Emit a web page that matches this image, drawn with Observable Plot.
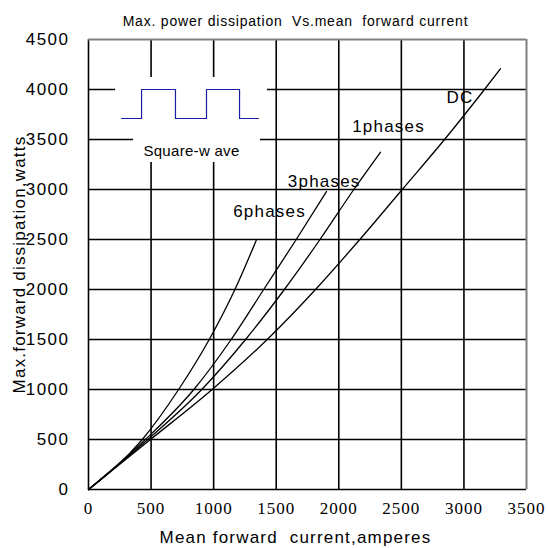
<!DOCTYPE html>
<html>
<head>
<meta charset="utf-8">
<script src="https://cdn.jsdelivr.net/npm/d3@7"></script>
<script src="https://cdn.jsdelivr.net/npm/@observablehq/plot@0.6"></script>
<style>
  html, body { margin: 0; padding: 0; background: white; }
  svg text { letter-spacing: 1.2px; }
</style>
</head>
<body>
<div id="chart"></div>
<script>
// ---- data ----
const xTicks = [0, 500, 1000, 1500, 2000, 2500, 3000, 3500];
const yTicks = [0, 500, 1000, 1500, 2000, 2500, 3000, 3500, 4000, 4500];

const seriesNames = ["6phases", "3phases", "1phases", "DC"];
const current6 = [0, 430, 720, 965, 1170, 1340];
const power6   = [0, 500, 1000, 1500, 2000, 2490];
const current3 = [0, 455, 842, 1140, 1400, 1660, 1902];
const power3   = [0, 500, 1000, 1500, 2000, 2500, 2980];
const current1 = [0, 474, 905, 1255, 1565, 1850, 2120, 2333];
const power1   = [0, 500, 1000, 1500, 2000, 2500, 3000, 3373];
const currentDC = [0, 495, 988, 1428, 1814, 2168, 2507, 2845, 3164, 3292];
const powerDC   = [0, 500, 1000, 1500, 2000, 2500, 3000, 3500, 4000, 4207];

// square-wave inset symbol (in chart units)
const waveX = [264, 424, 424, 695, 695, 943, 943, 1207, 1207, 1358];
const waveY = [3710, 3710, 4000, 4000, 3710, 3710, 4000, 4000, 3710, 3710];
// white background of the inset
const insetX1 = [216, 360];
const insetX2 = [1430, 1374];
const insetY1 = [3670, 3270];
const insetY2 = [4120, 3670];

// curve labels
const labelText = ["6phases", "3phases", "1phases", "DC"];
const labelX = [1156, 1593, 2107, 2861];
const labelY = [2723, 3030, 3580, 3863];

const titleText = "Max. power dissipation  Vs.mean  forward current";
const xTitle = "Mean forward  current,amperes";
const yTitle = "Max.forward dissipation,watts";
const waveLabel = "Square-w ave";

// ---- build tables ----
const curveRows = [];
[[current6, power6], [current3, power3], [current1, power1], [currentDC, powerDC]].forEach(([xs, ys], k) => {
  xs.forEach((x, i) => curveRows.push({series: seriesNames[k], x, y: ys[i]}));
});
const waveRows = waveX.map((x, i) => ({x, y: waveY[i]}));
const insetRows = insetX1.map((x1, i) => ({x1, x2: insetX2[i], y1: insetY1[i], y2: insetY2[i]}));
const labelRows = labelText.map((t, i) => ({t, x: labelX[i], y: labelY[i]}));

const sans = "Liberation Sans, Arial, Helvetica, sans-serif";

const chart = Plot.plot({
  width: 548,
  height: 548,
  marginLeft: 88,
  marginRight: 22,
  marginTop: 39,
  marginBottom: 59,
  style: {background: "white", fontFamily: sans, color: "black"},
  x: {domain: [0, 3500]},
  y: {domain: [0, 4500]},
  marks: [
    Plot.ruleX(xTicks.filter(d => d < 3500), {stroke: "black", strokeWidth: 1.6}),
    Plot.ruleY(yTicks.filter(d => d < 4500), {stroke: "black", strokeWidth: 1.6}),
    Plot.ruleX([3500], {stroke: "#808080", strokeWidth: 2}),
    Plot.ruleY([4500], {stroke: "#808080", strokeWidth: 2}),
    Plot.rect(insetRows, {x1: "x1", x2: "x2", y1: "y1", y2: "y2", fill: "white"}),
    Plot.line(waveRows, {x: "x", y: "y", stroke: "#1c1ca0", strokeWidth: 1.2}),
    Plot.text([waveLabel], {x: 823, y: 3340, text: d => d, fontSize: 15, lineAnchor: "bottom", fill: "black"}),
    Plot.line(curveRows, {x: "x", y: "y", z: "series", stroke: "black", strokeWidth: 1.3, curve: "monotone-x"}),
    Plot.text(labelRows, {x: "x", y: "y", text: "t", textAnchor: "start", lineAnchor: "bottom", fontSize: 17, fill: "black"}),
    Plot.axisX({ticks: xTicks, tickFormat: d => String(d), tickSize: 0, tickPadding: 12, fontSize: 17, fontFamily: "Liberation Serif, Times New Roman, serif", label: null}),
    Plot.axisY({ticks: yTicks, tickFormat: d => String(d), tickSize: 0, tickPadding: 19, fontSize: 17, label: null}),
    Plot.text([titleText], {frameAnchor: "top", text: d => d, dx: -12, dy: -14, lineAnchor: "bottom", fontSize: 14, fill: "black"}),
    Plot.text([xTitle], {frameAnchor: "bottom", text: d => d, dx: -12, dy: 53, lineAnchor: "bottom", fontSize: 17, fill: "black"}),
    Plot.text([yTitle], {frameAnchor: "left", text: d => d, dx: -69, rotate: -90, textAnchor: "middle", lineAnchor: "middle", fontSize: 17, fill: "black"})
  ]
});

document.getElementById("chart").appendChild(chart);
d3.select(chart).selectAll("text").each(function() {
  const t = this.textContent;
  if (t === titleText) d3.select(this).style("letter-spacing", "0.8px");
  if (t === waveLabel) d3.select(this).style("letter-spacing", "0.3px");
});
d3.select(chart).selectAll('g[aria-label="y-axis tick label"] text').style("letter-spacing", "1.5px");
d3.select(chart).selectAll('g[aria-label="x-axis tick label"] text').style("letter-spacing", "1px");
</script>
</body>
</html>
